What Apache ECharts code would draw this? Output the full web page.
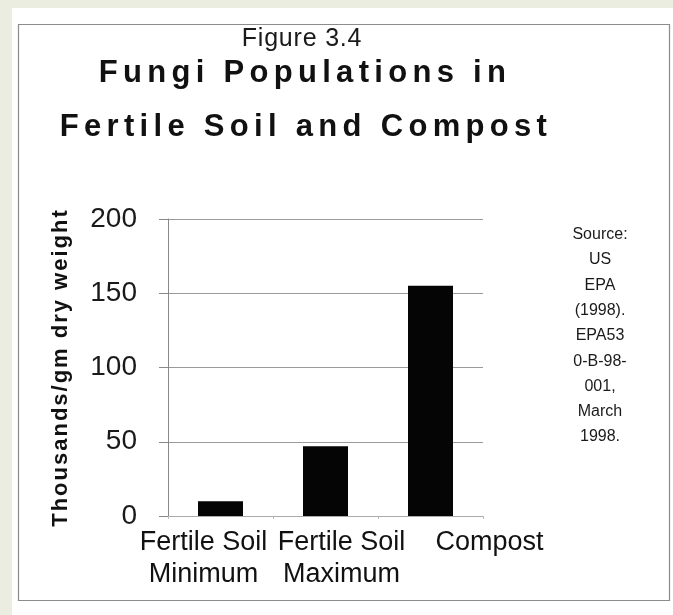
<!DOCTYPE html>
<html>
<head>
<meta charset="utf-8">
<script src="https://cdn.jsdelivr.net/npm/echarts@6/dist/echarts.min.js"></script>
<style>
  html, body {margin: 0; padding: 0; background: #ecede1;}
  #chart {width: 673px; height: 615px;}
</style>
</head>
<body>
<div id="chart"></div>
<script>
var categories = ["Fertile Soil\nMinimum", "Fertile Soil\nMaximum", "Compost"];
var fungi = [10, 47, 155];
var yTicks = [0, 50, 100, 150, 200];
var sourceLines = ["Source:", "US", "EPA", "(1998).", "EPA53", "0-B-98-", "001,", "March", "1998."];

// the scanned figure spaces out its bold lettering; canvas letterSpacing by font size
var letterGaps = {25: 0.8, 22: 2, 31: 5.3};
function gapFor(font) {
    var m = /(\d+(?:\.\d+)?)px/.exec(font);
    return ((m && letterGaps[m[1]]) || 0) + "px";
}
var proto = CanvasRenderingContext2D.prototype;
var fillText = proto.fillText, measureText = proto.measureText;
proto.fillText = function(text, x, y, maxWidth) {
    this.letterSpacing = gapFor(this.font);
    return maxWidth === undefined ? fillText.call(this, text, x, y) : fillText.call(this, text, x, y, maxWidth);
};
proto.measureText = function(text) {
    this.letterSpacing = gapFor(this.font);
    return measureText.call(this, text);
};

var font = "Arial, 'Liberation Sans', sans-serif";
// the printed labels sit off their bars; shift each one sideways
var labelShift = [-17, 16, 59];

var chart = echarts.init(document.getElementById("chart"));
chart.setOption({
    animation: false,
    graphic: [
        {type: "rect", z: -10, shape: {x: 12, y: 8, width: 661, height: 607}, style: {fill: "#fff"}},
        {type: "rect", z: -9, shape: {x: 18.5, y: 24.5, width: 651, height: 576}, style: {fill: null, stroke: "#8c8c8c", lineWidth: 1.2}},
    ],
    title: [
        {text: "Figure 3.4", left: 302, top: 26.5, textAlign: "center", padding: 0,
            textStyle: {fontFamily: font, fontSize: 25, fontWeight: "normal", color: "#1a1a1a", lineHeight: 25}},
        {text: "Fungi Populations in", left: 305, top: 57.5, textAlign: "center", padding: 0,
            textStyle: {fontFamily: font, fontSize: 31, fontWeight: "bold", color: "#111", lineHeight: 31}},
        {text: "Fertile Soil and Compost", left: 306, top: 112, textAlign: "center", padding: 0,
            textStyle: {fontFamily: font, fontSize: 31, fontWeight: "bold", color: "#111", lineHeight: 31}},
        {text: sourceLines.join("\n"), left: 600, top: 222, textAlign: "center", padding: 0,
            textStyle: {fontFamily: font, fontSize: 16, fontWeight: "normal", color: "#1a1a1a", lineHeight: 25.3}},
    ],
    grid: {left: 168, right: 190, top: 219, bottom: 99, containLabel: false},
    xAxis: {
        type: "category",
        data: categories.map(function(name, i) {
            var s = labelShift[i];
            return {value: name, textStyle: {padding: s < 0 ? [0, -2 * s, 0, 0] : [0, 0, 0, 2 * s]}};
        }),
        axisLine: {lineStyle: {color: "#aaa", width: 1}},
        axisTick: {show: true, length: 3, lineStyle: {color: "#bbb"}},
        axisLabel: {interval: 0, margin: 11, fontFamily: font, fontSize: 27, lineHeight: 32, color: "#111"},
    },
    yAxis: {
        type: "value", min: yTicks[0], max: yTicks[yTicks.length - 1], interval: yTicks[1] - yTicks[0],
        name: "Thousands/gm dry weight", nameLocation: "middle", nameRotate: 90, nameGap: 95,
        nameTextStyle: {fontFamily: font, fontSize: 22, fontWeight: "bold", color: "#111"},
        axisLine: {show: true, lineStyle: {color: "#888", width: 1}},
        axisTick: {show: true, length: 9, lineStyle: {color: "#888"}},
        axisLabel: {margin: 31, fontFamily: font, fontSize: 28, color: "#1a1a1a"},
        splitLine: {show: true, lineStyle: {color: "#9a9a9a", width: 1}},
    },
    series: [{
        type: "bar", data: fungi, barWidth: 45,
        itemStyle: {color: "#050505"},
    }],
});
</script>
</body>
</html>
